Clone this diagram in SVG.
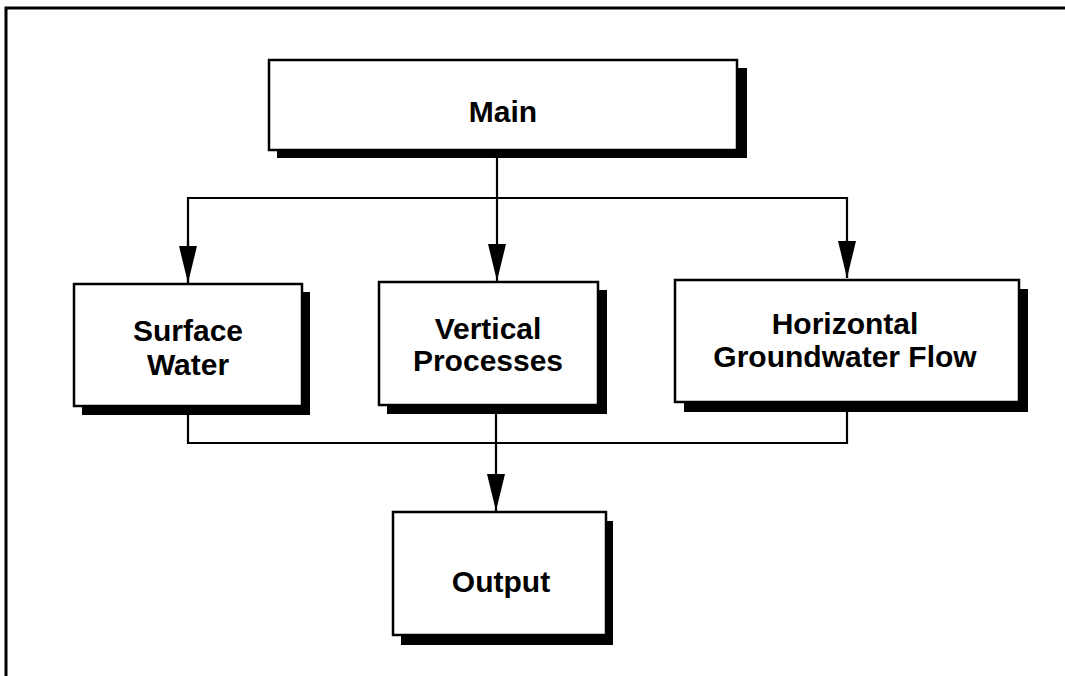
<svg xmlns="http://www.w3.org/2000/svg" width="1065" height="676" viewBox="0 0 1065 676">
<defs>
<style>
.frame{fill:none;stroke:#000;stroke-width:3}
.shadow{fill:#000}
.box{fill:#fff;stroke:#000;stroke-width:2.5}
.conn{fill:none;stroke:#000;stroke-width:2.2}
.lbl{font-family:"Liberation Sans",Arial,Helvetica,sans-serif;font-weight:bold;font-size:30px;fill:#000;text-anchor:middle}
</style>
<marker id="arr" markerUnits="userSpaceOnUse" markerWidth="38" markerHeight="20" viewBox="0 0 38 20" refX="37" refY="10" orient="auto">
<path d="M0,1 L37,10 L0,19 Z" fill="#000"/>
</marker>
</defs>
<rect width="1065" height="676" fill="#fff"/>
<path class="frame" d="M6,680 L6,8 L1070,8"/>
<g id="connectors">
<path class="conn" d="M497,158 L497,281" marker-end="url(#arr)"/>
<path class="conn" d="M188,283 L188,198 L847,198 L847,278"/>
<path class="conn" d="M188,240 L188,283" marker-end="url(#arr)"/>
<path class="conn" d="M847,240 L847,278" marker-end="url(#arr)"/>
<path class="conn" d="M188,412 L188,443 L847,443 L847,408"/>
<path class="conn" d="M496,412 L496,511" marker-end="url(#arr)"/>
</g>
<g id="main">
<rect class="shadow" x="277" y="68" width="470" height="90"/>
<rect class="box" x="269" y="60" width="468" height="90"/>
<text class="lbl" x="503" y="122">Main</text>
</g>
<g id="surface-water">
<rect class="shadow" x="82" y="292" width="228" height="123"/>
<rect class="box" x="74" y="284" width="228" height="122"/>
<text class="lbl" x="188" y="341">Surface</text>
<text class="lbl" x="188" y="375">Water</text>
</g>
<g id="vertical-processes">
<rect class="shadow" x="387" y="290" width="220" height="124"/>
<rect class="box" x="379" y="282" width="219" height="123"/>
<text class="lbl" x="488" y="339">Vertical</text>
<text class="lbl" x="488" y="371">Processes</text>
</g>
<g id="horizontal-groundwater-flow">
<rect class="shadow" x="684" y="289" width="344" height="123"/>
<rect class="box" x="675" y="280" width="344" height="122"/>
<text class="lbl" x="845" y="334">Horizontal</text>
<text class="lbl" x="845" y="367">Groundwater Flow</text>
</g>
<g id="output">
<rect class="shadow" x="401" y="521" width="212" height="124"/>
<rect class="box" x="393" y="512" width="213" height="123"/>
<text class="lbl" x="501" y="592">Output</text>
</g>
</svg>
